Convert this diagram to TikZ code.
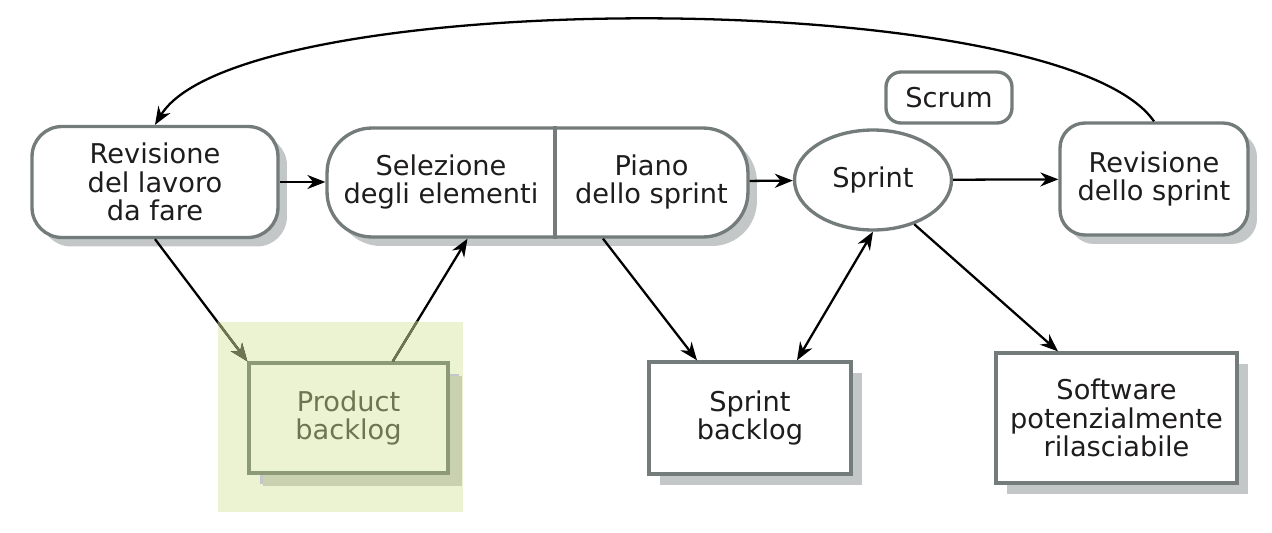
\documentclass[tikz,border=0pt]{standalone}
\usepackage{fontspec}
\setmainfont{DejaVu Sans}
\usepackage{xcolor}
\usepackage{tikz}
\usetikzlibrary{positioning, shapes, arrows.meta, shadows}

\definecolor{bordergray}{HTML}{737B7B}
\definecolor{shadowgray}{HTML}{C3C7C7}
\definecolor{inkblack}{HTML}{1E1C1C}
\definecolor{backlogbg}{HTML}{ECF3D3}
\definecolor{backlogline}{HTML}{8D9A78}
\definecolor{backlogtext}{HTML}{6D7551}
\definecolor{backlogshadow}{HTML}{C9D1B1}

\begin{document}
\begin{tikzpicture}[x=0.02cm, y=-0.02cm,
          every node/.style={align=center, text=inkblack, font=\fontsize{15.5}{16.3}\selectfont},
          stage/.style={draw=bordergray, line width=1.9pt, fill=white, rounded corners=0.6cm,
            drop shadow={shadow xshift=0.18cm, shadow yshift=-0.18cm, fill=shadowgray, opacity=1}},
          artifact/.style={draw=bordergray, line width=1.9pt, fill=white,
            drop shadow={shadow xshift=0.22cm, shadow yshift=-0.22cm, fill=shadowgray, opacity=1}},
          edge/.style={line width=1.3pt, -{Stealth[length=0.36cm, width=0.28cm]}}]
          \useasboundingbox (0,0) rectangle (1272,532);

          \node[fill=backlogbg, inner sep=0pt, minimum width=4.9cm, minimum height=3.8cm] (pbarea) at (340.5,417) {};

          \node[stage, minimum width=4.92cm, minimum height=2.22cm] (rev) at (155,182) {Revisione\\del lavoro\\da fare};
          \node[stage, rounded corners=0.9cm, minimum width=8.42cm, minimum height=2.18cm] (plan) at (537.5,182.5) {};
          \node (sel) at (441,182) {Selezione\\degli elementi};
          \node (piano) at (651.5,182) {Piano\\dello sprint};
          \draw[draw=bordergray, line width=1.9pt] ([xshift=0.35cm]plan.north) -- ([xshift=0.35cm]plan.south);
          \node[draw=bordergray, line width=1.9pt, ellipse, fill=white, minimum width=3.14cm, minimum height=2cm] (sprint) at (873,180) {Sprint};
          \node[draw=bordergray, line width=1.9pt, rounded corners=0.3cm, minimum width=2.52cm, minimum height=1.02cm] (scrum) at (949,97.5) {Scrum};
          \node[stage, rounded corners=0.5cm, minimum width=3.76cm, minimum height=2.24cm] (sprintrev) at (1154,179) {Revisione\\dello sprint};

          \node[artifact, draw=backlogline, fill=backlogbg, text=backlogtext, minimum width=3.98cm, minimum height=2.2cm,
            drop shadow={shadow xshift=0.28cm, shadow yshift=-0.26cm, fill=backlogshadow, opacity=1}] (pb) at (348.5,418) {Product\\backlog};
          \node[artifact, minimum width=4.04cm, minimum height=2.24cm] (sb) at (750,418) {Sprint\\backlog};
          \node[artifact, minimum width=4.82cm, minimum height=2.6cm] (sw) at (1116.5,418) {Software\\potenzialmente\\rilasciabile};

          \draw[edge] (rev.east) -- (plan.west |- rev.east);
          \draw[edge] (plan) -- (sprint);
          \draw[edge] (sprint) -- (sprintrev);
          \draw[edge] (rev.south) -- (pb.north west);
          \draw[edge] (pb.52) -- ([xshift=-1.4cm]plan.south);
          \draw[edge] ([xshift=1.31cm]plan.south) -- ([xshift=-1.06cm]sb.north);
          \draw[edge, {Stealth[length=0.36cm, width=0.28cm]}-{Stealth[length=0.36cm, width=0.28cm]}] ([xshift=0.94cm]sb.north) -- (sprint.south);
          \draw[edge] (sprint.-47) -- ([xshift=-1.17cm]sw.north);
          \draw[edge] (sprintrev.north) .. controls (1060,-15) and (240,-15) .. (rev.north);

          % inside the backlog area the lines turn olive
          \begin{scope}
            \clip (pbarea.north west) rectangle (pbarea.south east);
            \draw[edge, color=backlogtext] (rev.south) -- (pb.north west);
            \draw[edge, color=backlogtext] (pb.52) -- ([xshift=-1.4cm]plan.south);
          \end{scope}
        \end{tikzpicture}
\end{document}
